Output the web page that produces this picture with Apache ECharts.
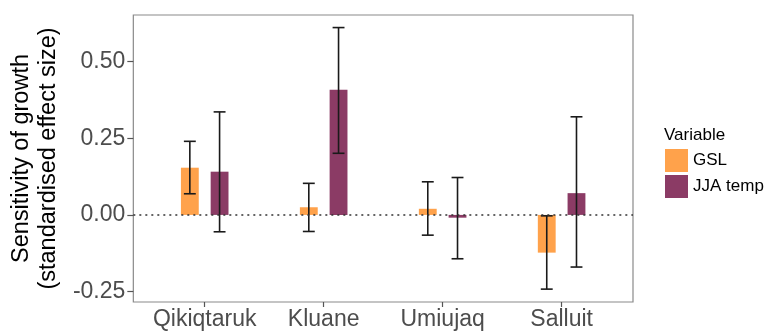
<!DOCTYPE html>
<html>
<head>
<meta charset="utf-8">
<script src="https://cdn.jsdelivr.net/npm/echarts@6/dist/echarts.min.js"></script>
<style>html,body{margin:0;padding:0;background:#fff}#c{width:765px;height:331px}</style>
</head>
<body>
<div id="c"></div>
<script>
const categories = ['Qikiqtaruk', 'Kluane', 'Umiujaq', 'Salluit'];
const seriesNames = ['GSL', 'JJA temp'];
const gslValues = [0.154, 0.025, 0.020, -0.123];
const gslLower = [0.069, -0.054, -0.066, -0.242];
const gslUpper = [0.240, 0.103, 0.108, -0.003];
const jjaValues = [0.141, 0.408, -0.009, 0.071];
const jjaLower = [-0.055, 0.201, -0.143, -0.170];
const jjaUpper = [0.336, 0.611, 0.122, 0.320];
const yTicks = [-0.25, 0, 0.25, 0.5];
const xTicks = [1, 2, 3, 4];

const FONT = 'Liberation Sans, Arial, Helvetica, sans-serif';
const colors = ['#FFA24B', '#8B3B65'];
const dodge = [-0.125, 0.125];
const barW = 0.15;
const capW = 0.1;

function makeData(vals, lo, hi) {
  return vals.map((v, i) => [i + 1, v, lo[i], hi[i]]);
}

function renderer(k) {
  return function (params, api) {
    const x = api.value(0) + dodge[k];
    const v = api.value(1), lo = api.value(2), hi = api.value(3);
    const p0 = api.coord([x - barW / 2, 0]);
    const p1 = api.coord([x + barW / 2, v]);
    const c = api.coord([x, 0]);
    const yl = api.coord([x, lo])[1];
    const yh = api.coord([x, hi])[1];
    const cw = api.size([capW, 0])[0] / 2;
    const ls = { stroke: '#1a1a1a', lineWidth: 1.6 };
    return {
      type: 'group',
      children: [
        { type: 'rect', shape: { x: p0[0], y: Math.min(p0[1], p1[1]), width: p1[0] - p0[0], height: Math.abs(p1[1] - p0[1]) }, style: { fill: colors[k] } },
        { type: 'line', shape: { x1: c[0], y1: yl, x2: c[0], y2: yh }, style: ls },
        { type: 'line', shape: { x1: c[0] - cw, y1: yl, x2: c[0] + cw, y2: yl }, style: ls },
        { type: 'line', shape: { x1: c[0] - cw, y1: yh, x2: c[0] + cw, y2: yh }, style: ls }
      ]
    };
  };
}

const chart = echarts.init(document.getElementById('c'), null, { renderer: 'canvas' });
chart.setOption({
  animation: false,
  backgroundColor: '#fff',
  textStyle: { fontFamily: FONT },
  title: {
    text: 'Variable', left: 659, top: 122,
    textStyle: { fontFamily: FONT, fontSize: 17, fontWeight: 'normal', color: '#000' }
  },
  legend: {
    orient: 'vertical', left: 660, top: 144,
    itemWidth: 23, itemHeight: 23, itemGap: 3,
    icon: 'rect',
    data: seriesNames,
    textStyle: { fontFamily: FONT, fontSize: 17, color: '#000', padding: [0, 0, 0, 0] }
  },
  grid: {
    left: 130, right: 132, top: 15, bottom: 29,
    show: true, borderColor: '#8a8a8a', borderWidth: 1.2, backgroundColor: '#fff'
  },
  xAxis: {
    type: 'value', min: 0.4, max: 4.6,
    splitLine: { show: false },
    axisLine: { show: false, onZero: false },
    axisTick: { show: true, customValues: xTicks, length: 5, lineStyle: { color: '#555', width: 1.2 } },
    axisLabel: {
      customValues: xTicks, margin: 6,
      formatter: v => categories[Math.round(v) - 1] || '',
      fontFamily: FONT, fontSize: 23, color: '#4d4d4d'
    }
  },
  yAxis: {
    type: 'value', min: -0.284, max: 0.652,
    splitLine: { show: false },
    axisLine: { show: false, onZero: false },
    axisTick: { show: true, customValues: yTicks, length: 6, lineStyle: { color: '#555', width: 1.2 } },
    axisLabel: {
      customValues: yTicks, margin: 8,
      formatter: v => v.toFixed(2),
      fontFamily: FONT, fontSize: 23, color: '#4d4d4d'
    },
    name: 'Sensitivity of growth\n(standardised effect size)',
    nameLocation: 'middle', nameRotate: 90, nameGap: 61,
    nameTextStyle: { fontFamily: FONT, fontSize: 23.5, color: '#000', lineHeight: 27 }
  },
  series: [
    {
      name: seriesNames[0], type: 'custom', renderItem: renderer(0),
      itemStyle: { color: colors[0] },
      data: makeData(gslValues, gslLower, gslUpper),
      encode: { x: 0, y: [1, 2, 3] },
      markLine: {
        silent: true, symbol: 'none', label: { show: false },
        lineStyle: { type: [2, 4], color: '#333', width: 1.6 },
        data: [{ yAxis: 0 }], z: 10
      }
    },
    {
      name: seriesNames[1], type: 'custom', renderItem: renderer(1),
      itemStyle: { color: colors[1] },
      data: makeData(jjaValues, jjaLower, jjaUpper),
      encode: { x: 0, y: [1, 2, 3] }
    }
  ]
});
</script>
</body>
</html>
